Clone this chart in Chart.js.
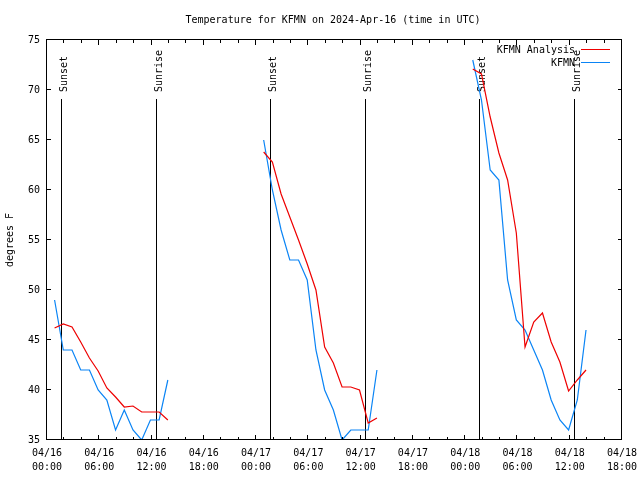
<!DOCTYPE html>
<html>
<head>
    <title>Temperature for KFMN</title>
    <script src="https://cdn.jsdelivr.net/npm/chart.js"></script>
    <style>
        body { margin: 0; background: #fff; }
    </style>
</head>
<body>
    <canvas id="temp-chart" width="640" height="480"></canvas>

    <script>
        // hours since 04/16 00:00 UTC
        const obsHours = [
            0.87, 1.87, 2.87, 3.87, 4.87, 5.87, 6.87, 7.87, 8.87, 9.87, 10.87, 11.87, 12.87, 13.87,
            24.87, 25.87, 26.87, 27.87, 28.87, 29.87, 30.87, 31.87, 32.87, 33.87, 34.87, 35.87, 36.87, 37.87,
            48.87, 49.87, 50.87, 51.87, 52.87, 53.87, 54.87, 55.87, 56.87, 57.87, 58.87, 59.87, 60.87, 61.87
        ];
        const kfmnTemps = [
            49, 44, 44, 42, 42, 40, 39, 36, 38, 36, 35, 37, 37, 41,
            65, 60, 56, 53, 53, 51, 44, 40, 38, 35, 36, 36, 36, 42,
            73, 69, 62, 61, 51, 47, 46, 44, 42, 39, 37, 36, 39, 46
        ];
        const analysisTemps = [
            46.2, 46.6, 46.3, 44.8, 43.2, 41.9, 40.2, 39.3, 38.3, 38.4, 37.8, 37.8, 37.8, 37.0,
            63.8, 62.8, 59.6, 57.3, 55.0, 52.6, 50.0, 44.3, 42.7, 40.3, 40.3, 40.0, 36.7, 37.2,
            72.1, 71.6, 67.3, 63.7, 61.0, 55.7, 44.3, 46.8, 47.7, 44.8, 42.8, 39.9, 41.0, 42.0
        ];
        const tickDates = ['04/16', '04/16', '04/16', '04/16', '04/17', '04/17', '04/17', '04/17', '04/18', '04/18', '04/18', '04/18'];
        const tickTimes = ['00:00', '06:00', '12:00', '18:00', '00:00', '06:00', '12:00', '18:00', '00:00', '06:00', '12:00', '18:00'];
        const sunHours = [1.68, 12.58, 25.67, 36.58, 49.70, 60.56];
        const sunLabels = ['Sunset', 'Sunrise', 'Sunset', 'Sunrise', 'Sunset', 'Sunrise'];

        const FONT = '10px "DejaVu Sans Mono"';
        const RED = '#ee0000';
        const BLUE = '#0a84f5';

        // split into daily pieces so the line breaks between them
        function toPoints(values) {
            const pts = [];
            obsHours.forEach((h, i) => {
                if (i > 0 && h - obsHours[i - 1] > 2) pts.push({ x: h - 1, y: null });
                pts.push({ x: h, y: values[i] });
            });
            return pts;
        }

        const decorations = {
            id: 'decorations',
            beforeDatasetsDraw(chart) {
                const { ctx, chartArea, scales: { x, y } } = chart;
                ctx.save();
                ctx.strokeStyle = '#000';
                ctx.lineWidth = 1;
                ctx.font = FONT;
                ctx.fillStyle = '#000';
                sunHours.forEach((h, i) => {
                    const px = Math.round(x.getPixelForValue(h)) - 0.5;
                    ctx.beginPath();
                    ctx.moveTo(px, y.getPixelForValue(69.1));
                    ctx.lineTo(px, chartArea.bottom);
                    ctx.stroke();
                    ctx.save();
                    ctx.translate(px + 5, 92);
                    ctx.rotate(-Math.PI / 2);
                    ctx.textAlign = 'left';
                    ctx.textBaseline = 'alphabetic';
                    ctx.fillText(sunLabels[i], 0, 0);
                    ctx.restore();
                });
                ctx.restore();
            },
            afterDraw(chart) {
                const { ctx, chartArea: a, scales: { x, y } } = chart;
                ctx.save();
                ctx.strokeStyle = '#000';
                ctx.lineWidth = 1;
                ctx.strokeRect(a.left - 0.5, a.top - 0.5, a.right - a.left, a.bottom - a.top);

                ctx.beginPath();
                for (let h = 0; h <= 66; h += 2) {
                    const px = Math.round(x.getPixelForValue(h)) - 0.5;
                    const len = h % 6 === 0 ? 5 : 3;
                    ctx.moveTo(px, a.bottom);
                    ctx.lineTo(px, a.bottom - len);
                    ctx.moveTo(px, a.top);
                    ctx.lineTo(px, a.top + len);
                }
                y.ticks.forEach(t => {
                    const py = Math.round(y.getPixelForValue(t.value)) - 0.5;
                    ctx.moveTo(a.left, py);
                    ctx.lineTo(a.left + 4, py);
                    ctx.moveTo(a.right, py);
                    ctx.lineTo(a.right - 4, py);
                });
                ctx.stroke();

                ctx.font = FONT;
                ctx.fillStyle = '#000';
                ctx.textAlign = 'center';
                ctx.textBaseline = 'middle';
                ctx.fillText('Temperature for KFMN on 2024-Apr-16 (time in UTC)', 333, 20);

                ctx.save();
                ctx.translate(10, 240);
                ctx.rotate(-Math.PI / 2);
                ctx.fillText('degrees F', 0, 0);
                ctx.restore();

                // legend
                ctx.textAlign = 'right';
                ctx.fillText('KFMN Analysis', 575, 50);
                ctx.fillText('KFMN', 575, 63);
                ctx.beginPath();
                ctx.strokeStyle = RED;
                ctx.moveTo(581, 49.5);
                ctx.lineTo(610, 49.5);
                ctx.stroke();
                ctx.beginPath();
                ctx.strokeStyle = BLUE;
                ctx.moveTo(581, 62.5);
                ctx.lineTo(610, 62.5);
                ctx.stroke();
                ctx.restore();
            }
        };

        const ctx = document.getElementById('temp-chart').getContext('2d');
        new Chart(ctx, {
            type: 'line',
            data: {
                datasets: [{
                    label: 'KFMN Analysis',
                    data: toPoints(analysisTemps),
                    borderColor: RED,
                    borderWidth: 1.2,
                    pointRadius: 0,
                    tension: 0,
                    spanGaps: false
                }, {
                    label: 'KFMN',
                    data: toPoints(kfmnTemps),
                    borderColor: BLUE,
                    borderWidth: 1.2,
                    pointRadius: 0,
                    tension: 0,
                    spanGaps: false
                }]
            },
            options: {
                responsive: false,
                animation: false,
                devicePixelRatio: 1,
                layout: { padding: { top: 40, right: 18, left: 0, bottom: 0 } },
                plugins: {
                    legend: { display: false },
                    title: { display: false },
                    tooltip: { enabled: false }
                },
                scales: {
                    x: {
                        type: 'linear',
                        min: 0,
                        max: 66,
                        afterFit: s => { s.height = 40; s.paddingLeft = 0; s.paddingRight = 0; },
                        grid: { display: false, drawTicks: false },
                        border: { display: false },
                        ticks: {
                            stepSize: 6,
                            autoSkip: false,
                            maxRotation: 0,
                            padding: 7,
                            color: '#000',
                            font: { family: 'DejaVu Sans Mono', size: 10, lineHeight: 1.35 },
                            callback: (v) => [tickDates[v / 6], tickTimes[v / 6]]
                        }
                    },
                    y: {
                        min: 35,
                        max: 75,
                        afterFit: s => { s.width = 47; s.paddingTop = 0; s.paddingBottom = 0; },
                        grid: { display: false, drawTicks: false },
                        border: { display: false },
                        ticks: {
                            stepSize: 5,
                            padding: 7,
                            color: '#000',
                            font: { family: 'DejaVu Sans Mono', size: 10 }
                        }
                    }
                }
            },
            plugins: [decorations]
        });
    </script>
</body>
</html>
